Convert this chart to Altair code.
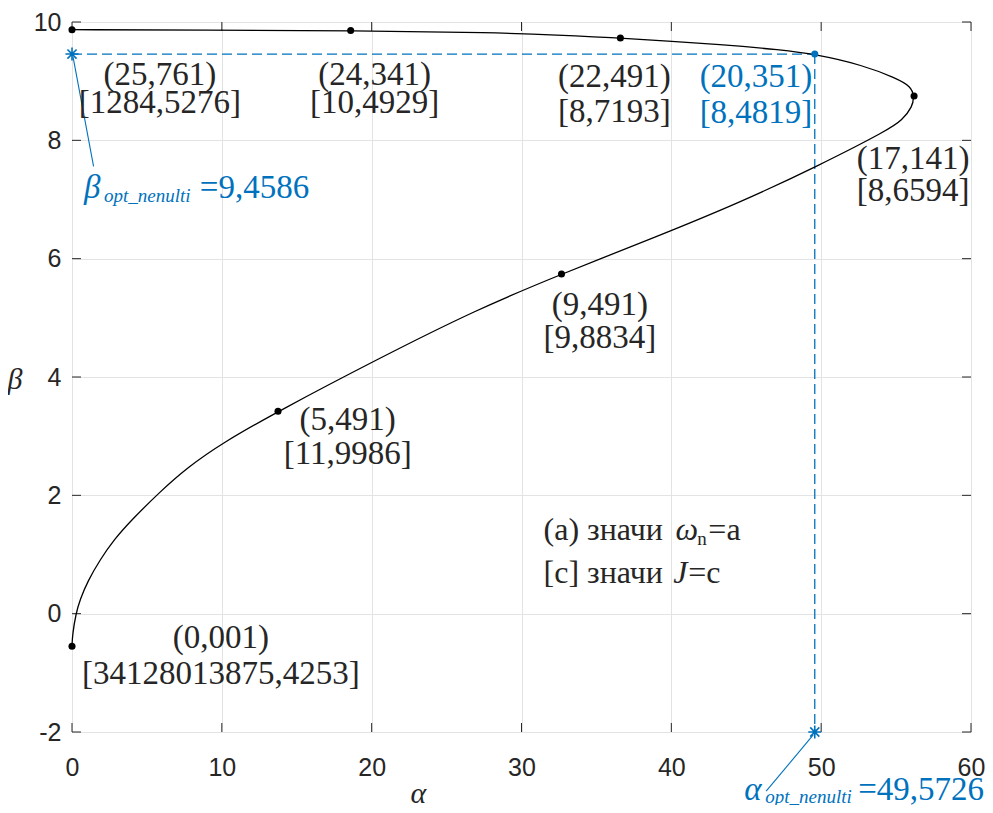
import altair as alt
import pandas as pd

# ---- data ----
curve_alpha = [0, 0.035, 0.26, 0.54, 1.05, 1.87, 2.8, 4.0, 5.87, 7.7, 10.0, 13.75, 20.3, 27.0,
               32.67, 39.0, 44.5, 49.9, 54.5, 55.4, 56.1, 56.2, 56.0, 55.0, 52.8, 49.57, 47.2,
               43.9, 36.6, 32.3, 28.3, 18.6, 9.0, 0]
curve_beta = [-0.55, -0.35, 0.0, 0.24, 0.55, 0.91, 1.25, 1.59, 2.06, 2.47, 2.88, 3.42, 4.29, 5.14,
              5.74, 6.37, 6.94, 7.58, 8.18, 8.34, 8.57, 8.75, 8.91, 9.05, 9.27, 9.4586, 9.53,
              9.61, 9.73, 9.78, 9.82, 9.855, 9.865, 9.87]

mark_alpha = [0, 18.6, 36.6, 56.2, 32.67, 13.75, 0]
mark_beta = [9.87, 9.855, 9.73, 8.75, 5.74, 3.42, -0.55]

alpha_opt = 49.5726
beta_opt = 9.4586

lab_text = ["(25,761)", "[1284,5276]", "(24,341)", "[10,4929]", "(22,491)", "[8,7193]",
            "(17,141)", "[8,6594]", "(9,491)", "[9,8834]", "(5,491)", "[11,9986]",
            "(0,001)", "[34128013875,4253]"]
lab_x = [5.87, 5.87, 20.2, 20.2, 36.2, 36.2, 56.13, 56.13, 35.23, 35.23, 18.4, 18.4, 9.93, 9.93]
lab_y = [9.096, 8.636, 9.096, 8.636, 9.076, 8.484, 7.685, 7.144, 5.22, 4.66, 3.27, 2.70,
         -0.411, -1.019]

blue_text = ["(20,351)", "[8,4819]"]
blue_x = [45.65, 45.65]
blue_y = [9.062, 8.47]

x_ticks = [0, 10, 20, 30, 40, 50, 60]
y_ticks = [-2, 0, 2, 4, 6, 8, 10]

BLUE = "#0072BD"
DARK = "#262626"
SERIF = "Liberation Serif"
SANS = "Liberation Sans"
W, H = 899, 710
FS = 33

XS = alt.Scale(domain=[0, 60], nice=False, zero=False)
YS = alt.Scale(domain=[-2, 10], nice=False, zero=False)
AXX = alt.Axis(values=x_ticks, grid=True, gridColor="#e3e3e3", gridWidth=1, domain=False,
               ticks=False, labelFont=SANS, labelFontSize=25, labelColor=DARK,
               labelPadding=23, labelFlush=False, title=None, labelExpr="'' + datum.value")
AXY = alt.Axis(values=y_ticks, grid=True, gridColor="#e3e3e3", gridWidth=1, domain=False,
               ticks=False, labelFont=SANS, labelFontSize=25, labelColor=DARK,
               labelPadding=11, labelFlush=False, title=None, labelExpr="'' + datum.value")


def X(f="a"):
    return alt.X(f"{f}:Q", scale=XS, axis=AXX)


def Y(f="b"):
    return alt.Y(f"{f}:Q", scale=YS, axis=AXY)


curve_df = pd.DataFrame({"a": curve_alpha, "b": curve_beta, "i": range(len(curve_alpha))})
mark_df = pd.DataFrame({"a": mark_alpha, "b": mark_beta})
lab_df = pd.DataFrame({"a": lab_x, "b": lab_y, "t": lab_text})
blue_df = pd.DataFrame({"a": blue_x, "b": blue_y, "t": blue_text})

# dashed guides
hdash = pd.DataFrame({"a": [0], "a2": [alpha_opt], "b": [beta_opt]})
vdash = pd.DataFrame({"a": [alpha_opt], "b": [beta_opt], "b2": [-2]})

layers = []

layers.append(alt.Chart(hdash).mark_rule(color=BLUE, strokeWidth=1.3, strokeDash=[10, 5]).encode(
    x=X(), x2="a2:Q", y=Y()))
layers.append(alt.Chart(vdash).mark_rule(color=BLUE, strokeWidth=1.3, strokeDash=[10, 5]).encode(
    x=X(), y=Y(), y2="b2:Q"))

# ticks (inward, all four sides)
xt_df = pd.DataFrame({"a": x_ticks})
yt_df = pd.DataFrame({"b": y_ticks})
layers.append(alt.Chart(xt_df).mark_rule(color=DARK, strokeWidth=1).encode(
    x=X(), y=alt.value(H), y2=alt.value(H - 9)))
layers.append(alt.Chart(xt_df).mark_rule(color=DARK, strokeWidth=1).encode(
    x=X(), y=alt.value(0), y2=alt.value(9)))
layers.append(alt.Chart(yt_df).mark_rule(color=DARK, strokeWidth=1).encode(
    y=Y(), x=alt.value(0), x2=alt.value(9)))
layers.append(alt.Chart(yt_df).mark_rule(color=DARK, strokeWidth=1).encode(
    y=Y(), x=alt.value(W), x2=alt.value(W - 9)))

# curve
layers.append(alt.Chart(curve_df).mark_line(color="black", strokeWidth=1.3,
                                             interpolate="basis").encode(
    x=X(), y=Y(), order="i:Q"))

# markers
layers.append(alt.Chart(mark_df).mark_point(filled=True, color="black", size=50, opacity=1).encode(
    x=X(), y=Y()))
layers.append(alt.Chart(pd.DataFrame({"a": [alpha_opt], "b": [beta_opt]})).mark_point(
    filled=True, color=BLUE, size=50, opacity=1).encode(x=X(), y=Y()))

# stars
STAR = "M-1,0L1,0M0,-1L0,1M-0.7,-0.7L0.7,0.7M-0.7,0.7L0.7,-0.7"
layers.append(alt.Chart(pd.DataFrame({"a": [0, alpha_opt], "b": [beta_opt, -2]})).mark_point(
    shape=STAR, filled=False, color=BLUE, strokeWidth=1.6, size=170, opacity=1).encode(
    x=X(), y=Y()))

# annotation arrows
arr_df = pd.DataFrame({"a": [0.07, 46.33], "b": [9.41, -3.0], "a2": [1.44, 49.47], "b2": [7.56, -2.05]})
layers.append(alt.Chart(arr_df).mark_rule(color=BLUE, strokeWidth=1.1).encode(
    x=X(), y=Y(), x2="a2:Q", y2="b2:Q"))

# point labels
layers.append(alt.Chart(lab_df).mark_text(font=SERIF, fontSize=FS, color=DARK, align="center",
                                           baseline="middle").encode(x=X(), y=Y(), text="t:N"))
layers.append(alt.Chart(blue_df).mark_text(font=SERIF, fontSize=FS, color=BLUE, align="center",
                                            baseline="middle").encode(x=X(), y=Y(), text="t:N"))

# legend-like note and optimum labels (pieces, left aligned, alphabetic baseline)
piece_text = ["(a) значи", "ω", "n", "=a", "[c] значи", "J", "=c",
              "β", "opt_nenulti", "=9,4586",
              "α", "opt_nenulti", "=49,5726",
              "α", "β"]
piece_x = [31.47, 40.27, 41.73, 42.47, 31.47, 40.13, 41.13,
           0.8, 2.13, 8.53,
           44.87, 46.27, 52.47,
           22.6, -4.3]
piece_y = [1.245, 1.245, 1.245, 1.245, 0.519, 0.519, 0.519,
           7.026, 7.026, 7.026,
           -3.15, -3.15, -3.15,
           -3.2, 3.8]
piece_size = [32, 32, 19, 32, 32, 32, 32,
              FS, 19, FS,
              FS, 19, FS,
              30, 30]
piece_style = ["normal", "italic", "normal", "normal", "normal", "italic", "normal",
               "italic", "italic", "normal",
               "italic", "italic", "normal",
               "italic", "italic"]
piece_dy = [0, 0, 5, 0, 0, 0, 0,
            0, 4, 0,
            0, 3, 0,
            0, 0]
piece_color = ["k", "k", "k", "k", "k", "k", "k",
               "b", "b", "b",
               "b", "b", "b",
               "k", "k"]

for t, a, b, s, st, dy, c in zip(piece_text, piece_x, piece_y, piece_size, piece_style,
                                 piece_dy, piece_color):
    layers.append(alt.Chart(pd.DataFrame({"a": [a], "b": [b], "t": [t]})).mark_text(
        font=SERIF, fontSize=s, fontStyle=st, color=(BLUE if c == "b" else DARK),
        align="left", baseline="alphabetic", dy=dy).encode(x=X(), y=Y(), text="t:N"))

chart = alt.layer(*layers).properties(
    width=W, height=H,
    autosize=alt.AutoSizeParams(type="none"),
    padding={"left": 64, "top": 14, "right": 14, "bottom": 73},
).configure_view(stroke=DARK, strokeWidth=1).configure(background="white")

chart.save("out.html", embed_options={"renderer": "svg", "actions": False})
